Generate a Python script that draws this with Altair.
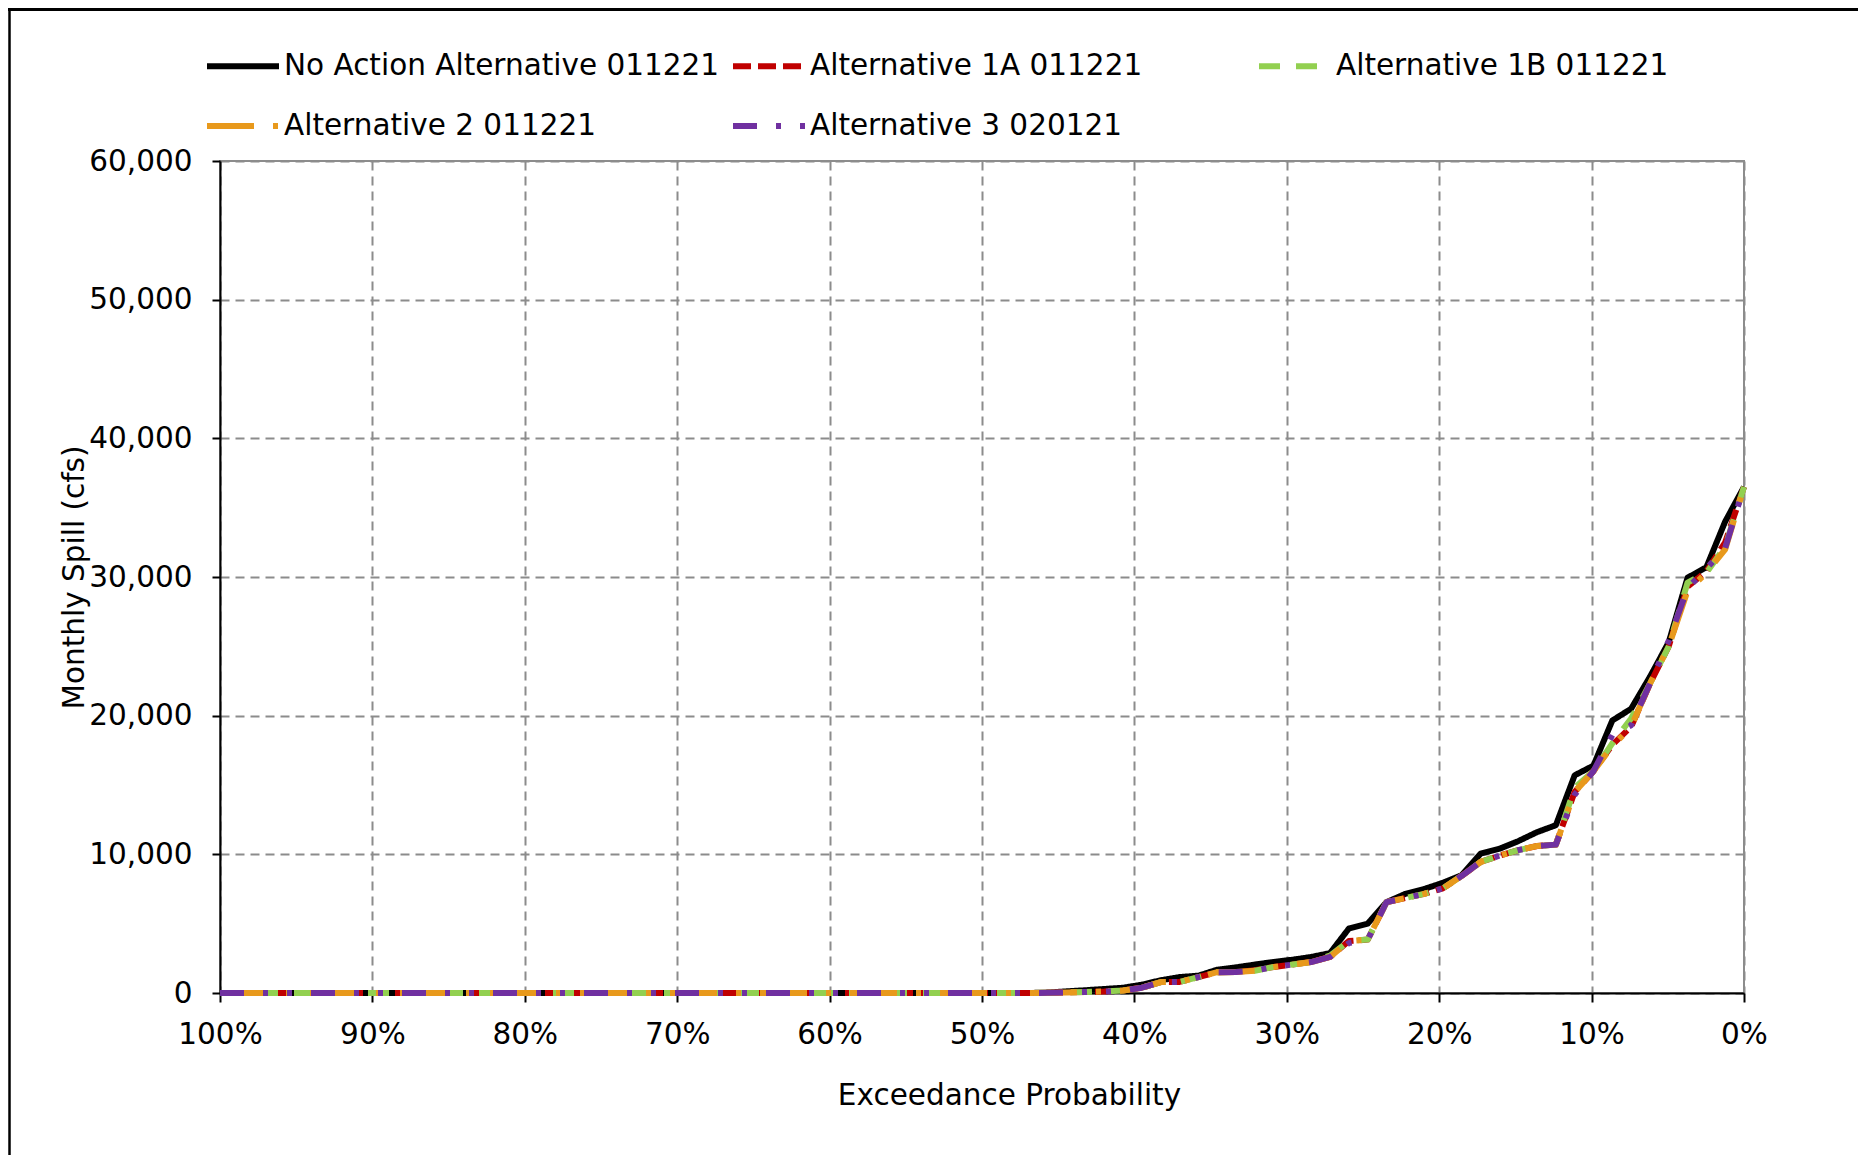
import altair as alt
import pandas as pd

# ---- data ----
series_names = [
    "No Action Alternative 011221",
    "Alternative 1A 011221",
    "Alternative 1B 011221",
    "Alternative 2 011221",
    "Alternative 3 020121",
]
series_colors = ["#000000", "#C00000", "#92D050", "#E8991C", "#7030A0"]
series_dashes = [[1, 0], [18, 7], [21, 16], [47, 19, 5, 19], [24, 19, 5, 19, 5, 19]]

# exceedance plotting positions (82 sorted monthly values, 100% .. 0%)
n_points = 82
exceedance = [round(100 * (1 - i / (n_points - 1)), 3) for i in range(n_points)]

zeros = [0] * 43
no_action = zeros + [
    0, 30, 120, 200, 290, 380, 600, 920, 1150, 1250,
    1680, 1850, 2050, 2240, 2400, 2600, 2880, 4650, 5000, 6550,
    7150, 7500, 7950, 8500, 10050, 10400, 10950, 11600, 12100, 15700,
    16400, 19650, 20500, 22800, 25300, 29950, 30700, 34000, 36500]
alt_1a = zeros + [
    0, 10, 40, 70, 110, 180, 380, 790, 800, 1150,
    1500, 1510, 1650, 1880, 2050, 2250, 2600, 3750, 3850, 6550,
    6850, 7150, 7550, 8450, 9450, 9900, 10300, 10600, 10700, 14500,
    16000, 17900, 19200, 22300, 25000, 29300, 30400, 32500, 36500]
alt_1b = zeros + [
    0, 10, 40, 70, 110, 180, 380, 790, 800, 1150,
    1500, 1510, 1600, 1880, 2050, 2230, 2700, 3750, 3850, 6550,
    6850, 7150, 7550, 8450, 9450, 9900, 10300, 10600, 10700, 14800,
    16000, 18000, 19800, 22300, 25000, 29600, 30300, 32200, 36500]
alt_2 = zeros + [
    0, 10, 40, 70, 110, 180, 380, 790, 800, 1150,
    1500, 1510, 1600, 1880, 2050, 2230, 2600, 3750, 3850, 6550,
    6850, 7150, 7550, 8450, 9450, 9900, 10300, 10600, 10700, 14500,
    16000, 17800, 19200, 22300, 25000, 29000, 30300, 32000, 36500]
alt_3 = zeros + [
    0, 10, 40, 70, 110, 180, 380, 790, 800, 1150,
    1500, 1510, 1600, 1880, 2050, 2230, 2600, 3600, 3850, 6550,
    6850, 7150, 7550, 8450, 9450, 9900, 10300, 10600, 10700, 14300,
    16000, 18600, 19300, 22300, 25400, 29200, 30600, 32100, 36500]

x_ticks = [0, 10, 20, 30, 40, 50, 60, 70, 80, 90, 100]
y_ticks = [0, 10000, 20000, 30000, 40000, 50000, 60000]

all_values = [no_action, alt_1a, alt_1b, alt_2, alt_3]
rows = []
for name, vals in zip(series_names, all_values):
    for p, v in zip(exceedance, vals):
        rows.append({"series": name, "exceedance": p, "spill": v})
df = pd.DataFrame(rows)

FONT = "DejaVu Sans"
FS = 29.5

lines = alt.Chart(df).mark_line(strokeWidth=6, strokeJoin="round", strokeCap="butt").encode(
    x=alt.X("exceedance:Q",
            scale=alt.Scale(domain=[0, 100], reverse=True, nice=False),
            axis=alt.Axis(values=x_ticks, labelExpr="datum.value + '%'",
                          title="Exceedance Probability",
                          titleX=789, titleY=111, titleBaseline="alphabetic",
                          titleAlign="center", labelPadding=18, tickSize=9,
                          labelFlush=False)),
    y=alt.Y("spill:Q",
            scale=alt.Scale(domain=[0, 60000], nice=False),
            axis=alt.Axis(values=y_ticks, format=",.0f", title="Monthly Spill (cfs)",
                          titleX=-146, titleY=416, titleBaseline="middle",
                          titleAlign="center", labelPadding=20, tickSize=8)),
    color=alt.Color("series:N",
                    scale=alt.Scale(domain=series_names, range=series_colors),
                    legend=alt.Legend(title=None, orient="none", legendX=-16, legendY=-134,
                                      direction="horizontal",
                                      columns=3, gridAlign="all", columnPadding=1,
                                      rowPadding=6, padding=0,
                                      symbolType="stroke", symbolSize=5184,
                                      symbolStrokeWidth=6, labelOffset=2,
                                      labelFontSize=FS, labelFont=FONT,
                                      labelColor="#000000", labelLimit=800)),
    strokeDash=alt.StrokeDash("series:N",
                              scale=alt.Scale(domain=series_names, range=series_dashes),
                              legend=None),
    detail="series:N",
)

frame_df = pd.DataFrame({"k": [0]})
top_line = alt.Chart(frame_df).mark_rule(color="#000000", strokeWidth=3).encode(
    x=alt.value(-212), x2=alt.value(1638), y=alt.value(-151.5))
left_line = alt.Chart(frame_df).mark_rule(color="#000000", strokeWidth=2.5).encode(
    x=alt.value(-210.5), y=alt.value(-153), y2=alt.value(994))

chart = alt.layer(lines, top_line, left_line).properties(
    width=1524, height=832,
    padding={"left": 212, "top": 153, "right": 114, "bottom": 162},
    autosize=alt.AutoSizeParams(type="none"),
).configure_view(
    stroke="#8c8c8c", strokeWidth=2
).configure_axis(
    labelFont=FONT, titleFont=FONT, labelFontSize=FS, titleFontSize=FS,
    labelColor="#000000", titleColor="#000000", titleFontWeight="normal",
    domainColor="#000000", domainWidth=2, tickColor="#000000", tickWidth=2,
    gridColor="#8c8c8c", gridDash=[9, 6], gridWidth=2,
)

chart.save("out.html", embed_options={"renderer": "svg", "actions": False})
